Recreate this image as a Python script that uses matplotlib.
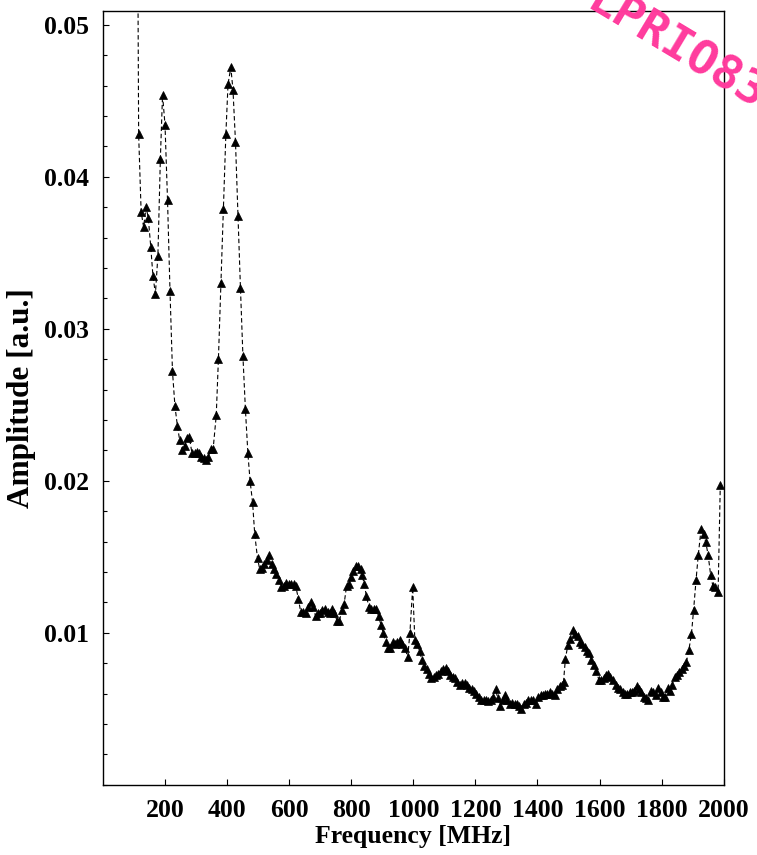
import matplotlib.pyplot as plt
from matplotlib.ticker import MultipleLocator

# frequency [MHz] and amplitude [a.u.]
freq = [107.5, 115, 123, 131, 139, 146, 154, 161, 169, 177, 185, 192, 200, 208, 216,
        224, 232, 240, 247, 256, 263, 271, 278, 287, 295, 302, 310, 317, 325, 332,
        340, 347, 355, 365, 372, 380, 388, 396, 403, 412, 419, 427, 435, 443, 451,
        459, 467, 474, 482, 489, 498, 505, 513, 520, 528, 536, 544, 552, 559, 568,
        575, 583, 590, 598, 605, 614, 621, 630, 637, 645, 654, 661, 669, 677, 685,
        693, 700, 707, 715, 724, 731, 739, 746, 754, 762, 770, 777, 785, 792, 800,
        807, 815, 823, 830, 835, 842, 849, 857, 865, 872, 880, 888, 896, 903, 911,
        918, 926, 934, 942, 949, 958, 965, 973, 982, 989, 998, 1005, 1013, 1020, 1028,
        1035, 1043, 1051, 1058, 1066, 1073, 1081, 1088, 1097, 1104, 1112, 1119, 1127, 1134, 1142,
        1149, 1157, 1165, 1173, 1181, 1188, 1196, 1203, 1211, 1219, 1227, 1234, 1242, 1249, 1257,
        1265, 1272, 1280, 1288, 1296, 1303, 1311, 1318, 1326, 1333, 1341, 1348, 1356, 1364, 1371,
        1378, 1386, 1395, 1402, 1410, 1417, 1425, 1432, 1440, 1447, 1455, 1463, 1471, 1478, 1484,
        1490, 1498, 1505, 1514, 1521, 1529, 1537, 1544, 1552, 1559, 1567, 1574, 1582, 1589, 1598,
        1605, 1613, 1620, 1628, 1635, 1643, 1652, 1659, 1667, 1674, 1682, 1689, 1697, 1704, 1712,
        1720, 1728, 1735, 1743, 1751, 1757, 1765, 1773, 1781, 1789, 1797, 1804, 1812, 1819, 1827,
        1834, 1842, 1849, 1857, 1865, 1872, 1880, 1888, 1896, 1903, 1911, 1918, 1927, 1935, 1942,
        1950, 1958, 1965, 1973, 1982, 1989]

amp = [0.075, 0.0428, 0.0377, 0.0367, 0.0380, 0.0373, 0.0354, 0.0335, 0.0323, 0.0348, 0.0412, 0.0454, 0.0434, 0.0385, 0.0325,
       0.0272, 0.0249, 0.0236, 0.0227, 0.0220, 0.0223, 0.0228, 0.0229, 0.0218, 0.0218, 0.0219, 0.0218, 0.0216, 0.0215, 0.0214,
       0.0216, 0.0221, 0.0221, 0.0243, 0.0280, 0.0330, 0.0379, 0.0428, 0.0461, 0.0472, 0.0457, 0.0423, 0.0374, 0.0327, 0.0282,
       0.0247, 0.0218, 0.0200, 0.0186, 0.0165, 0.0149, 0.0142, 0.0143, 0.0145, 0.0148, 0.0151, 0.0145, 0.0142, 0.0139, 0.0135,
       0.0130, 0.0131, 0.0133, 0.0132, 0.0132, 0.0132, 0.0131, 0.0122, 0.0114, 0.0114, 0.0113, 0.0117, 0.0120, 0.0117, 0.0111,
       0.0113, 0.0113, 0.0115, 0.0116, 0.0114, 0.0113, 0.0116, 0.0113, 0.0108, 0.0108, 0.0115, 0.0119, 0.0131, 0.0132, 0.0137,
       0.0141, 0.0144, 0.0144, 0.0142, 0.0138, 0.0132, 0.0124, 0.0117, 0.0116, 0.0116, 0.0116, 0.0111, 0.0105, 0.0100, 0.0094,
       0.0090, 0.0090, 0.0094, 0.0093, 0.0094, 0.0095, 0.0093, 0.0090, 0.0084, 0.0100, 0.0130, 0.0095, 0.0093, 0.0088, 0.0082,
       0.0078, 0.0076, 0.0073, 0.0070, 0.0071, 0.0072, 0.0073, 0.0075, 0.0076, 0.0077, 0.0075, 0.0072, 0.0071, 0.0070, 0.0068,
       0.0066, 0.0067, 0.0067, 0.0066, 0.0064, 0.0063, 0.0062, 0.0060, 0.0058, 0.0056, 0.0056, 0.0056, 0.0055, 0.0056, 0.0058,
       0.0063, 0.0057, 0.0052, 0.0056, 0.0059, 0.0056, 0.0053, 0.0054, 0.0053, 0.0053, 0.0052, 0.0050, 0.0053, 0.0054, 0.0056,
       0.0056, 0.0056, 0.0053, 0.0058, 0.0059, 0.0059, 0.0060, 0.0060, 0.0061, 0.0060, 0.0059, 0.0063, 0.0065, 0.0066, 0.0068,
       0.0083, 0.0092, 0.0096, 0.0102, 0.0099, 0.0098, 0.0094, 0.0093, 0.0091, 0.0088, 0.0087, 0.0082, 0.0079, 0.0075, 0.0069,
       0.0069, 0.0070, 0.0072, 0.0073, 0.0071, 0.0069, 0.0066, 0.0064, 0.0063, 0.0061, 0.0060, 0.0060, 0.0061, 0.0061, 0.0062,
       0.0065, 0.0063, 0.0061, 0.0058, 0.0057, 0.0056, 0.0062, 0.0061, 0.0059, 0.0064, 0.0061, 0.0058, 0.0058, 0.0064, 0.0062,
       0.0066, 0.0071, 0.0072, 0.0074, 0.0076, 0.0078, 0.0081, 0.0089, 0.0099, 0.0115, 0.0135, 0.0151, 0.0168, 0.0165, 0.0160,
       0.0151, 0.0138, 0.0131, 0.0130, 0.0127, 0.0197]

xticks = [200, 400, 600, 800, 1000, 1200, 1400, 1600, 1800, 2000]
yticks = [0.01, 0.02, 0.03, 0.04, 0.05]

plt.rcParams['font.family'] = ['Liberation Serif', 'DejaVu Serif']
plt.rcParams['font.weight'] = 'bold'

fig = plt.figure(figsize=(7.57, 8.55), dpi=100)
ax = fig.add_axes([0.136, 0.082, 0.820, 0.905])

ax.plot(freq, amp, color='black', linestyle=(0, (4, 2.5)), linewidth=0.8,
        marker='^', markersize=5.5, markerfacecolor='black', markeredgecolor='black',
        markeredgewidth=0.5, clip_on=True)

ax.set_xlim(0, 2000)
ax.set_ylim(0, 0.0509)
ax.set_xticks(xticks)
ax.set_xticklabels([str(t) for t in xticks])
ax.set_yticks(yticks)
ax.set_yticklabels([f'{t:.2f}' for t in yticks])
ax.yaxis.set_minor_locator(MultipleLocator(0.002))

ax.tick_params(which='both', direction='in', top=False, right=False, labelsize=18.5)
ax.tick_params(which='major', length=4.5, width=0.8, pad=10)
ax.tick_params(which='minor', length=3, width=0.8)
for sp in ax.spines.values():
    sp.set_linewidth(1.0)

ax.set_xlabel('Frequency [MHz]', fontsize=18.5, fontweight='bold', labelpad=2)
ax.set_ylabel('Amplitude [a.u.]', fontsize=22.5, fontweight='bold', labelpad=6)

# pink stamp in the top right corner
fig.text(0.893, 0.943, 'LPRIO83', color='#ff3b9d', fontsize=34, fontweight='bold',
         family='DejaVu Sans Mono', rotation=-31, ha='center', va='center',
         rotation_mode='anchor')

fig.savefig('out.png', dpi=100)
